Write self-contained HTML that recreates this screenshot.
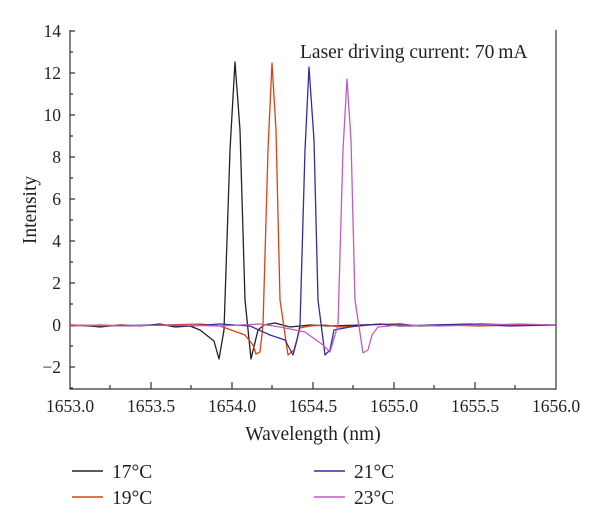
<!DOCTYPE html><html><head><style>body{margin:0;background:#fff}text{font-family:"Liberation Serif",serif;fill:#222}</style></head><body>
<svg width="600" height="525" viewBox="0 0 600 525">
<g font-size="17.5" text-anchor="end">
<text x="61" y="37">14</text><text x="61" y="79">12</text><text x="61" y="121">10</text><text x="61" y="163">8</text><text x="61" y="205">6</text><text x="61" y="247">4</text><text x="61" y="289">2</text><text x="61" y="331">0</text><text x="61" y="373">−2</text></g>
<g font-size="17.5" text-anchor="middle">
<text x="70" y="412">1653.0</text><text x="151" y="412">1653.5</text><text x="232" y="412">1654.0</text><text x="313" y="412">1654.5</text><text x="394" y="412">1655.0</text><text x="475" y="412">1655.5</text><text x="556" y="412">1656.0</text>
<text x="313" y="440" font-size="19.5">Wavelength (nm)</text>
<text transform="translate(36,210) rotate(-90)" font-size="19.5">Intensity</text></g>
<text x="300" y="58" font-size="19.5">Laser driving current: 70&#8201;mA</text>
<g stroke="#333" stroke-width="1.2" fill="none">
<path d="M70,30V389H556V30"/>
<path d="M70,31h5M70,73h5M70,115h5M70,157h5M70,199h5M70,241h5M70,283h5M70,325h5M70,367h5M70,52h3M70,94h3M70,136h3M70,178h3M70,220h3M70,262h3M70,304h3M70,346h3M70,388h3"/>
<path d="M151,389v-7M232,389v-7M313,389v-7M394,389v-7M475,389v-7M110,389v-4M191,389v-4M272,389v-4M353,389v-4M434,389v-4M515,389v-4"/>
</g>
<g fill="none" stroke-width="1.3" stroke-linejoin="round">
<polyline stroke="#222" points="70,325 90,326 100,327 120,325 140,326 160,324 175,327 190,326 200,330 214,341 219,359 224,330 230,150 235,62 240,130 245,300 251,359 258,330 264,325 275,323 290,327 310,325 330,326 360,325 400,324 420,326 450,325 480,324 520,325 556,325"/>
<polyline stroke="#d84315" points="70,326 100,325 130,326 160,325 200,324 220,326 245,335 253,345 256,354 260,352 263,325 268,150 272,63 276,130 280,300 288,355 294,350 300,328 310,326 325,325 340,327 360,326 380,324 410,326 440,325 480,326 520,325 556,325"/>
<polyline stroke="#3a2a9a" points="70,325 110,326 150,325 190,326 220,324 250,326 270,335 285,340 293,355 297,340 300,325 305,150 309,67 314,140 318,300 325,355 330,350 334,330 350,327 365,325 380,324 400,326 430,325 470,324 510,326 556,325"/>
<polyline stroke="#c05cc0" points="70,325 120,326 170,325 220,326 260,324 280,327 305,332 323,345 330,352 335,335 338,325 343,150 347,79 351,140 355,300 363,353 368,350 372,335 378,327 400,325 440,326 480,325 520,324 556,325"/>
</g>
<g stroke-width="1.5"><line x1="72" y1="471" x2="103" y2="471" stroke="#222"/><line x1="72" y1="497" x2="103" y2="497" stroke="#d84315"/><line x1="314" y1="471" x2="345" y2="471" stroke="#3a2a9a"/><line x1="314" y1="497" x2="345" y2="497" stroke="#c05cc0"/></g>
<g font-size="19.5"><text x="112" y="478">17°C</text><text x="112" y="504">19°C</text><text x="354" y="478">21°C</text><text x="354" y="504">23°C</text></g>
</svg></body></html>
